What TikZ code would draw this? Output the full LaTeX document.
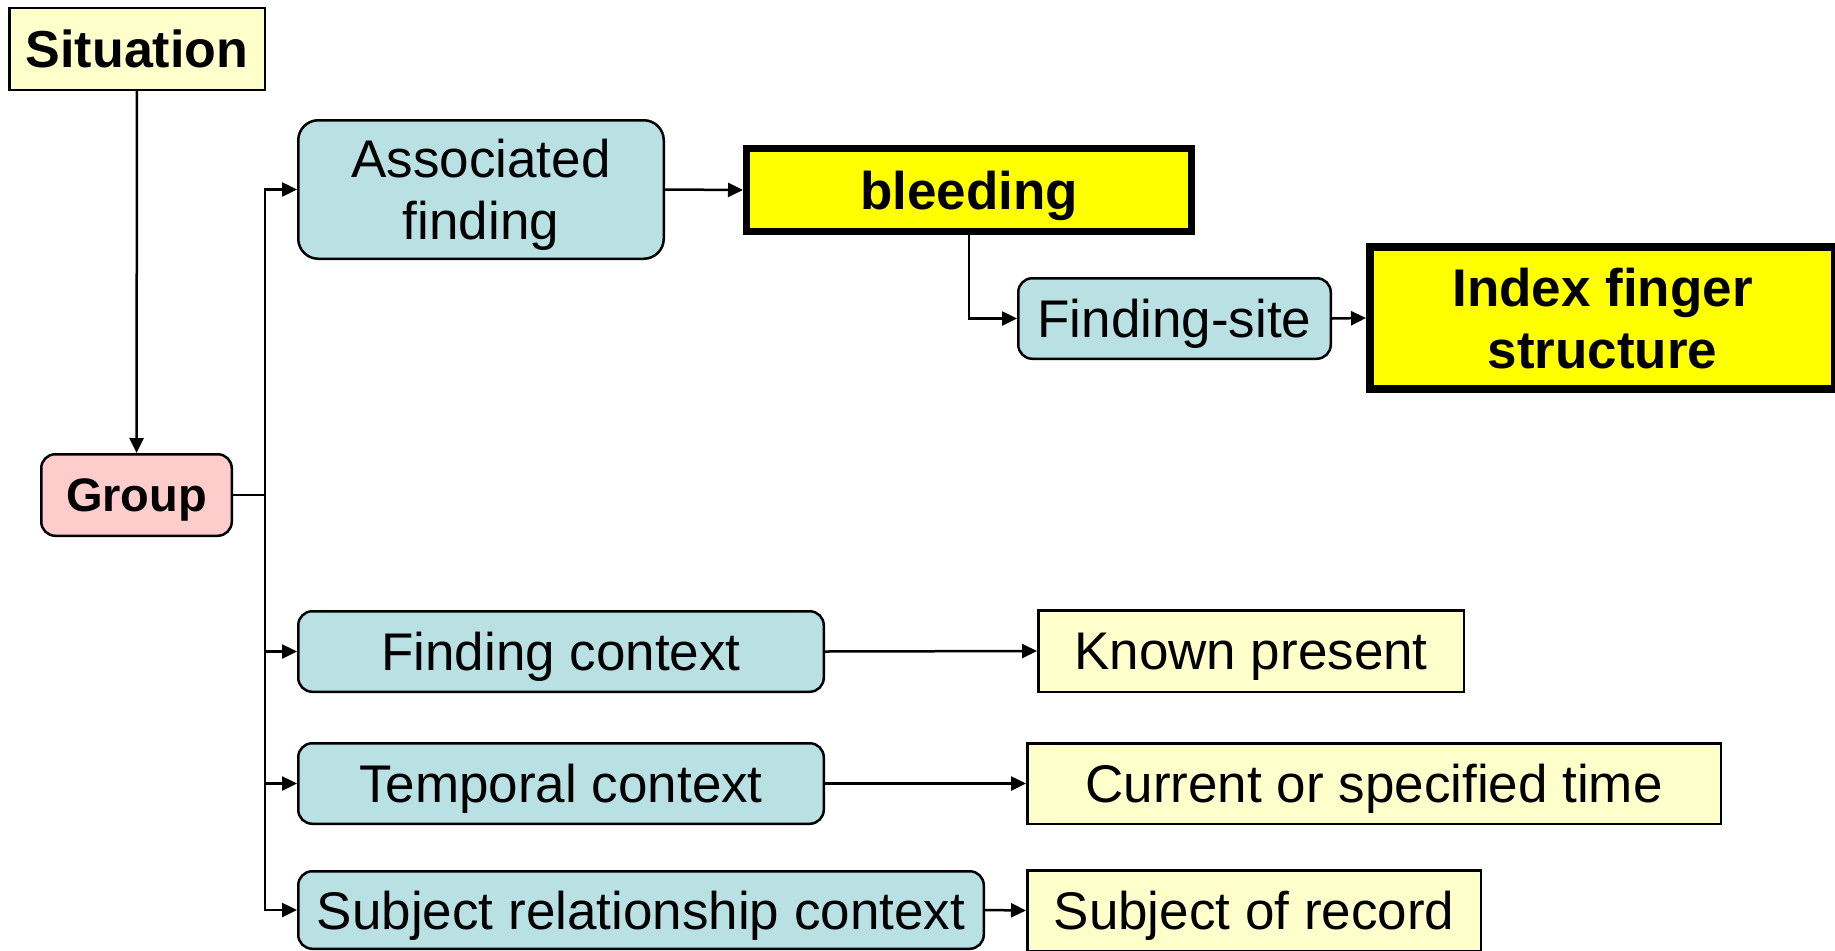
\documentclass[tikz,border=0pt]{standalone}
\usepackage{fontspec}
\setmainfont{Liberation Sans}
\usetikzlibrary{arrows.meta}
\definecolor{teal}{HTML}{B9E0E3}
\definecolor{lyellow}{HTML}{FFFFCC}
\definecolor{lpink}{HTML}{FFCCCC}
\definecolor{byellow}{HTML}{FFFF00}
\tikzset{
  base/.style={draw=black, line width=2.5pt, inner sep=0pt, align=center, text depth=0pt,
    font=\fontsize{53}{62}\selectfont},
  tealbox/.style={base, fill=teal, rounded corners=14pt},
  creambox/.style={base, fill=lyellow},
  hibox/.style={base, fill=byellow, font=\fontsize{53}{62}\selectfont\bfseries},
  conn/.style={line width=2.5pt, line join=miter},
  arr/.style={conn, -{Triangle[length=15pt,width=14pt]}},
}
\begin{document}
\begin{tikzpicture}[x=1pt,y=-1pt]
\useasboundingbox (0,0) rectangle (1835,950);
\node[creambox, font=\fontsize{52}{62}\selectfont\bfseries, minimum width=255.5pt, minimum height=81.5pt] (sit) at (137,49) {Situation};
\node[base, fill=lpink, rounded corners=14pt, font=\fontsize{47}{56}\selectfont\bfseries, minimum width=190.5pt, minimum height=81.5pt] (grp) at (136.5,495) {Group};
\node[tealbox, rounded corners=20pt, minimum width=365.5pt, minimum height=138.5pt] (assoc) at (481,189.5) {Associated\\finding};
\node[hibox, line width=7pt, minimum width=445pt, minimum height=83pt] (bleed) at (969,190) {bleeding};
\node[tealbox, minimum width=312.5pt, minimum height=80.5pt] (fsite) at (1174.5,318.5) {Finding-site};
\node[hibox, line width=8pt, minimum width=465pt, minimum height=142pt] (index) at (1602.5,318) {Index finger\\structure};
\node[tealbox, minimum width=525.5pt, minimum height=80.5pt] (fctx) at (561,651.5) {Finding context};
\node[tealbox, minimum width=525.5pt, minimum height=80.5pt] (tctx) at (561,783.5) {Temporal context};
\node[tealbox, minimum width=685.5pt, minimum height=77.5pt] (sctx) at (641,910) {Subject relationship context};
\node[creambox, minimum width=425.5pt, minimum height=81.5pt] (known) at (1251,651) {Known present};
\node[creambox, minimum width=693.5pt, minimum height=80.5pt] (current) at (1374,783.5) {Current or specified time};
\node[creambox, minimum width=453.5pt, minimum height=80.5pt] (record) at (1254,910.5) {Subject of record};
\coordinate (bus) at (265,495);
\draw[arr] (sit) -- (grp);
\draw[conn] (grp.east) -- (bus);
\draw[arr] (bus) |- (assoc.west);
\draw[arr] (bus) |- (sctx.west);
\draw[arr] (bus |- fctx.west) -- (fctx.west);
\draw[arr] (bus |- tctx.west) -- (tctx.west);
\draw[arr] (assoc.east) -- (bleed.west);
\draw[arr] (bleed.south) |- (fsite.west);
\draw[arr] (fsite.east) -- (index.west);
\draw[arr] (fctx.east) -- (known.west);
\draw[arr] (tctx.east) -- (current.west);
\draw[arr] (sctx.east) -- (record.west);
\end{tikzpicture}
\end{document}
